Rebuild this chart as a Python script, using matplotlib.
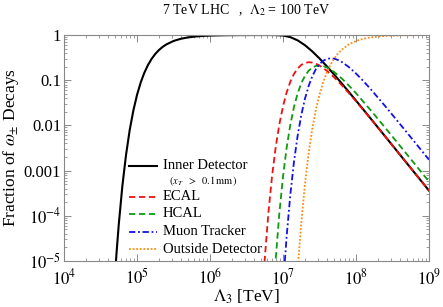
import matplotlib
matplotlib.use("Agg")
import matplotlib.pyplot as plt
import numpy as np
from matplotlib.ticker import LogLocator, FixedLocator, NullFormatter

plt.rcParams["font.family"] = ["Liberation Serif", "DejaVu Serif"]
plt.rcParams["mathtext.fontset"] = "stix"

# log10(Lambda_3 / TeV) and fraction of decays
log_lam_inner = [4.70, 4.72, 4.75, 4.80, 4.85, 4.90, 4.95, 5.00, 5.05, 5.10,
                 5.15, 5.20, 5.25, 5.30, 5.35, 5.40, 5.50, 5.60, 5.70, 5.80,
                 5.90, 6.00, 6.20, 6.40, 6.60, 6.80, 6.90, 7.00, 7.10, 7.20,
                 7.30, 7.40, 7.50, 7.60, 7.70, 7.80, 7.90, 8.00, 8.20, 8.40,
                 8.60, 8.80, 9.00]
frac_inner = [5.2e-6, 1.53e-5, 6.4e-5, 4.66e-4, 2.24e-3, 7.9e-3, 0.0213, 0.0471,
              0.0883, 0.1454, 0.2163, 0.2964, 0.3806, 0.4644, 0.5434, 0.6162,
              0.7367, 0.8246, 0.8855, 0.9262, 0.9527, 0.9699, 0.9879, 0.9952,
              0.998, 0.9991, 0.996, 0.9725, 0.8970, 0.7619, 0.5957, 0.4353,
              0.3027, 0.2035, 0.1337, 0.0866, 0.05555, 0.03542, 0.01424,
              0.005699, 0.002272, 0.000905, 0.0003605]

log_lam_ecal = [6.72, 6.75, 6.80, 6.85, 6.90, 6.95, 7.00, 7.05, 7.10, 7.15,
                7.20, 7.25, 7.30, 7.35, 7.40, 7.45, 7.50, 7.60, 7.70, 7.80,
                7.90, 8.00, 8.20, 8.40, 8.60, 8.80, 9.00]
frac_ecal = [2.07e-6, 1.12e-5, 1.166e-4, 7.51e-4, 3.30e-3, 0.01057, 0.02642,
             0.05378, 0.09222, 0.1372, 0.1814, 0.2175, 0.2408, 0.2498, 0.2458,
             0.2317, 0.2111, 0.1621, 0.1158, 0.07908, 0.05246, 0.03416,
             0.01405, 0.005667, 0.002268, 0.000905, 0.0003604]

log_lam_hcal = [6.85, 6.88, 6.90, 6.95, 7.00, 7.05, 7.10, 7.15, 7.20, 7.25,
                7.30, 7.35, 7.40, 7.45, 7.50, 7.55, 7.60, 7.70, 7.80, 7.90,
                8.00, 8.20, 8.40, 8.60, 8.80, 9.00]
frac_hcal = [5.6e-7, 3.6e-6, 1.09e-5, 1.14e-4, 7.35e-4, 3.22e-3, 0.01028,
             0.02539, 0.05077, 0.0854, 0.1243, 0.1611, 0.1896, 0.2065, 0.2112,
             0.2053, 0.1915, 0.1523, 0.1112, 0.0770, 0.05153, 0.02179,
             0.008887, 0.003572, 0.001431, 0.0005697]

log_lam_muon = [7.00, 7.02, 7.05, 7.10, 7.15, 7.20, 7.25, 7.30, 7.35, 7.40,
                7.45, 7.50, 7.55, 7.60, 7.65, 7.70, 7.75, 7.80, 7.90, 8.00,
                8.10, 8.20, 8.40, 8.60, 8.80, 9.00]
frac_muon = [2.5e-6, 7.7e-6, 3.53e-5, 2.90e-4, 1.55e-3, 5.85e-3, 0.01682,
             0.03857, 0.07376, 0.1211, 0.1749, 0.2268, 0.2687, 0.2953, 0.3049,
             0.2992, 0.2815, 0.2562, 0.1966, 0.1405, 0.0959, 0.06363, 0.02667,
             0.010839, 0.004353, 0.001738]

log_lam_out = [7.18, 7.20, 7.22, 7.25, 7.30, 7.35, 7.40, 7.45, 7.50, 7.55,
               7.60, 7.65, 7.70, 7.75, 7.80, 7.90, 8.00, 8.10, 8.20, 8.40,
               8.60, 8.80, 9.00]
frac_out = [1.78e-6, 5.7e-6, 1.65e-5, 6.86e-5, 4.92e-4, 2.36e-3, 8.18e-3,
            0.02199, 0.04820, 0.08996, 0.1476, 0.2188, 0.2990, 0.3834, 0.4669,
            0.6184, 0.7384, 0.8259, 0.8863, 0.9531, 0.9810, 0.9924, 0.99697]

x_ticks = [1e4, 1e5, 1e6, 1e7, 1e8, 1e9]
x_labels = [r"$10^{4}$", r"$10^{5}$", r"$10^{6}$", r"$10^{7}$", r"$10^{8}$", r"$10^{9}$"]
y_ticks = [1e-5, 1e-4, 1e-3, 1e-2, 1e-1, 1]
y_labels = [r"$10^{-5}$", r"$10^{-4}$", "0.001", "0.01", "0.1", "1"]

series = [
    ("Inner Detector", log_lam_inner, frac_inner, "black", "-"),
    ("ECAL", log_lam_ecal, frac_ecal, "#ee1111", (0, (3.5, 2))),
    ("HCAL", log_lam_hcal, frac_hcal, "#119911", (0, (3.5, 2))),
    ("Muon Tracker", log_lam_muon, frac_muon, "#1111ee", (0, (3.5, 1.5, 1, 1.5))),
    ("Outside Detector", log_lam_out, frac_out, "#ff8c10", (0, (1, 1))),
]

fig = plt.figure(figsize=(4.43, 3.07), dpi=100)
ax = fig.add_axes([64 / 443, 1 - 261 / 307, 365 / 443, 226 / 307])

for name, lx, fr, col, ls in series:
    ax.plot(10 ** np.array(lx), fr, color=col, ls=ls, lw=1.5 if col == "black" else 1.3)

ax.set_xscale("log")
ax.set_yscale("log")
ax.set_xlim(1e4, 1e9)
ax.set_ylim(1e-5, 1)

ax.xaxis.set_major_locator(FixedLocator(x_ticks))
ax.set_xticklabels(x_labels)
ax.yaxis.set_major_locator(FixedLocator(y_ticks))
ax.set_yticklabels(y_labels)
ax.xaxis.set_minor_locator(LogLocator(base=10, subs=np.arange(2, 10), numticks=20))
ax.yaxis.set_minor_locator(LogLocator(base=10, subs=np.arange(2, 10), numticks=20))
ax.xaxis.set_minor_formatter(NullFormatter())
ax.yaxis.set_minor_formatter(NullFormatter())

ax.tick_params(which="both", direction="in", top=True, right=True, color="#777777",
               labelsize=12)
ax.tick_params(axis="x", pad=5)
ax.tick_params(axis="y", pad=2)
ax.tick_params(which="major", length=5, width=0.6)
ax.tick_params(which="minor", length=2.5, width=0.5)
for sp in ax.spines.values():
    sp.set_color("#888888")
    sp.set_linewidth(0.8)

ax.set_xlabel(r"$\Lambda_3$ [TeV]", fontsize=12.5, labelpad=0)
ax.set_ylabel(r"Fraction of $\omega_{\pm}$ Decays", fontsize=12.5, labelpad=2)
ax.set_title(r"7 TeV LHC   ,  $\Lambda_2$ = 100 TeV", fontsize=10, pad=15)

# hand-placed legend, Mathematica style
leg_y = [0.4217, 0.2845, 0.208, 0.1305, 0.053]
for (name, lx, fr, col, ls), yy in zip(series, leg_y):
    ax.plot([0.178, 0.255], [yy, yy], transform=ax.transAxes, color=col, ls=ls,
            lw=1.5 if col == "black" else 1.3, clip_on=False)
    ax.text(0.271, yy, name, transform=ax.transAxes, fontsize=10.5, va="center", ha="left")
ax.text(0.287, 0.354, r"$(x_T\ \ >\ \ 0.1\,\mathrm{mm})$", transform=ax.transAxes,
        fontsize=7.5, va="center", ha="left")

fig.savefig("out.png", dpi=100)
